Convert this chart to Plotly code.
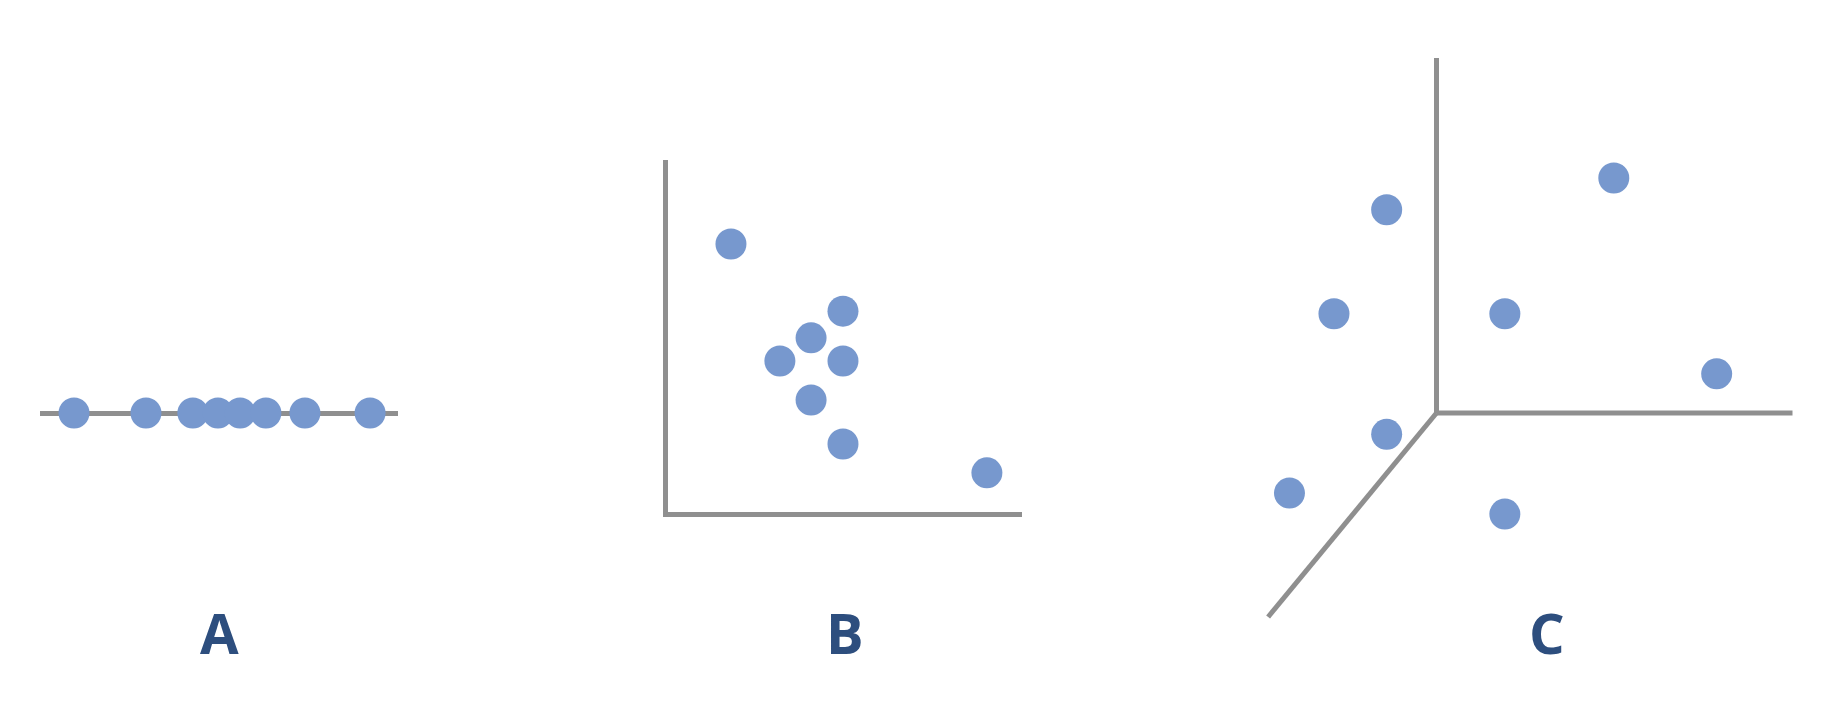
import plotly.graph_objects as go

# Page is 1836x710; the HTML body has an 8px margin, so the figure is 1820x694
PAGE_OFF = 8
W, H = 1836 - 2 * PAGE_OFF, 710 - 2 * PAGE_OFF

# ---------------- data ----------------
# Panel A: one-dimensional values
a_values = [0.95, 2.96, 4.27, 4.97, 5.59, 6.31, 7.40, 9.22]

# Panel B: two-dimensional values
b_x = [1.79, 4.95, 4.05, 3.17, 4.95, 4.05, 4.95, 9.01]
b_y = [7.61, 5.70, 4.94, 4.28, 4.28, 3.17, 1.92, 1.10]

# Panel C: three-dimensional points (projected onto the page plane)
c_x = [-1.40, 4.98, -2.88, 1.92, 7.87, -1.40, -4.13, 1.92]
c_y = [5.71, 6.60, 2.79, 2.79, 1.10, -0.60, -2.25, -2.84]
# Panel C axis ends (x axis, y axis, depth axis in projection)
c_axis_ends_x = [10.0, 0.0, -4.73]
c_axis_ends_y = [0.0, 9.97, -5.73]

panel_labels = ["A", "B", "C"]

# ---------------- styles ----------------
DOT = "#7798CE"
AXIS = "#8F8F8F"
LABEL = "#2D4E7E"
DOT_SIZE = 31
LW = 5


def clamp(v):
    return min(1.0, max(0.0, v))


def xdom(p0, p1):
    return [clamp((p0 - PAGE_OFF) / W), clamp((p1 - PAGE_OFF) / W)]


def ydom(top, bottom):
    return [clamp((H - (bottom - PAGE_OFF)) / H), clamp((H - (top - PAGE_OFF)) / H)]


fig = go.Figure()

# Panel A
fig.add_trace(go.Scatter(x=a_values, y=[0] * len(a_values), mode="markers",
                         marker=dict(size=DOT_SIZE, color=DOT),
                         xaxis="x", yaxis="y", cliponaxis=False, hoverinfo="x"))

# Panel B
fig.add_trace(go.Scatter(x=b_x, y=b_y, mode="markers",
                         marker=dict(size=DOT_SIZE, color=DOT),
                         xaxis="x2", yaxis="y2", cliponaxis=False))

# Panel C axes
for ex, ey in zip(c_axis_ends_x, c_axis_ends_y):
    fig.add_trace(go.Scatter(x=[0, ex], y=[0, ey], mode="lines",
                             line=dict(color=AXIS, width=LW),
                             xaxis="x3", yaxis="y3", hoverinfo="skip",
                             cliponaxis=False))
fig.add_trace(go.Scatter(x=c_x, y=c_y, mode="markers",
                         marker=dict(size=DOT_SIZE, color=DOT),
                         xaxis="x3", yaxis="y3", cliponaxis=False))

hidden = dict(showgrid=False, zeroline=False, showticklabels=False,
              ticks="", showline=False, fixedrange=True)

# panel C: pixels per unit and origin on the page
cs = 35.6
c_ox, c_oy = 1436.5, 413
cx0, cx1 = -6.0, 10.8
cy0, cy1 = -7.0, 11.0

fig.update_layout(
    width=W, height=H,
    margin=dict(l=0, r=0, t=0, b=0),
    paper_bgcolor="white", plot_bgcolor="rgba(0,0,0,0)",
    showlegend=False,
    xaxis=dict(domain=xdom(40, 398), range=[0, 10], anchor="y", **hidden),
    yaxis=dict(domain=ydom(383, 443), range=[-1, 1], anchor="x",
               showgrid=False, showticklabels=False, ticks="", fixedrange=True,
               zeroline=True, zerolinecolor=AXIS, zerolinewidth=LW),
    xaxis2=dict(domain=xdom(667.5, 1022), range=[0, 10], anchor="y2",
                showgrid=False, zeroline=False, showticklabels=False, ticks="",
                showline=True, linecolor=AXIS, linewidth=LW, fixedrange=True),
    yaxis2=dict(domain=ydom(160, 511.5), range=[0, 10], anchor="x2",
                showgrid=False, zeroline=False, showticklabels=False, ticks="",
                showline=True, linecolor=AXIS, linewidth=LW, fixedrange=True),
    xaxis3=dict(domain=xdom(c_ox + cx0 * cs, c_ox + cx1 * cs), range=[cx0, cx1],
                anchor="y3", **hidden),
    yaxis3=dict(domain=ydom(c_oy - cy1 * cs, c_oy - cy0 * cs), range=[cy0, cy1],
                anchor="x3", **hidden),
)

label_x = [219, 845, 1547]
label_y = 632
for lab, lx in zip(panel_labels, label_x):
    fig.add_annotation(text=f"<b>{lab}</b>", x=(lx - PAGE_OFF) / W,
                       y=(H - (label_y - PAGE_OFF)) / H,
                       xref="paper", yref="paper", showarrow=False,
                       xanchor="center", yanchor="middle",
                       font=dict(family="Open Sans", size=56, color=LABEL))

fig.write_html("out.html")
